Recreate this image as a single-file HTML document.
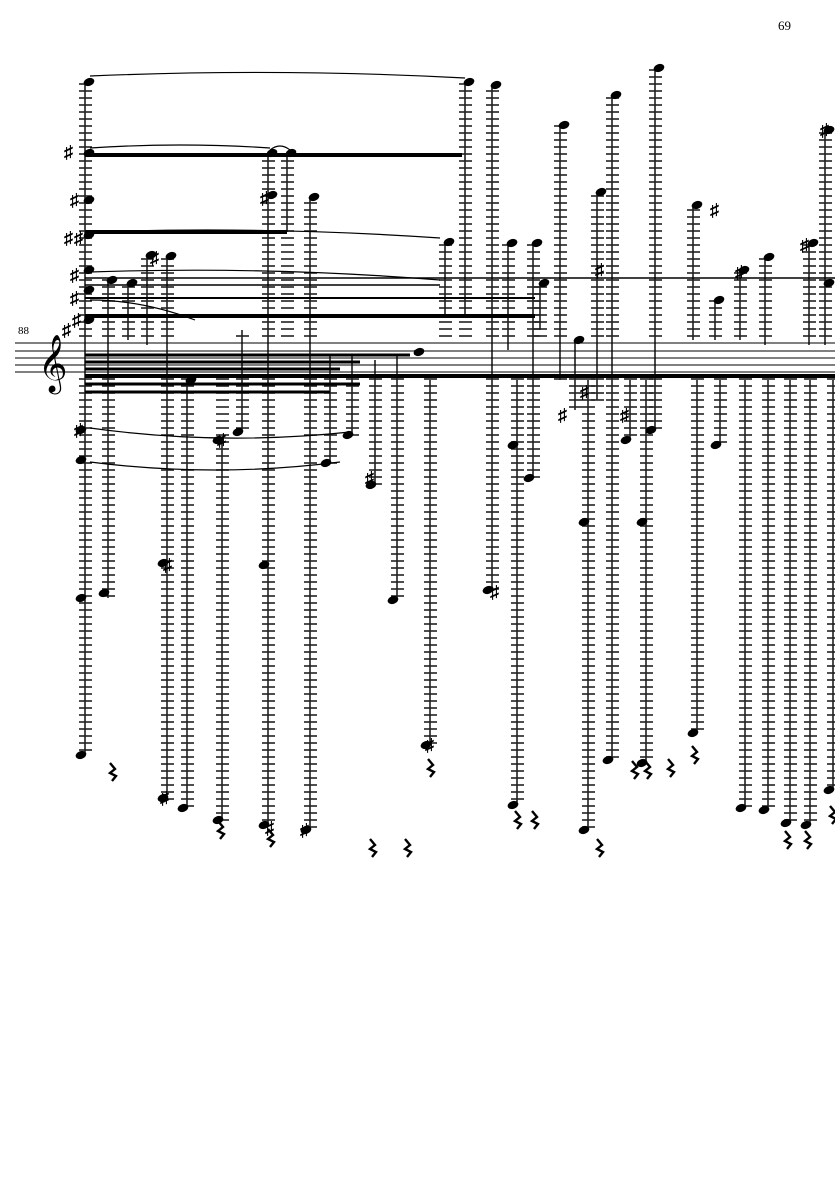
<!DOCTYPE html>
<html><head><meta charset="utf-8"><style>
html,body{margin:0;padding:0;background:#fff;}
svg{display:block;}
text{font-family:"Liberation Serif","DejaVu Serif",serif;}
</style></head><body>
<svg id="s" width="835" height="1181" viewBox="0 0 835 1181" xmlns="http://www.w3.org/2000/svg">
<text x="778" y="30" font-size="13">69</text>
<text x="18" y="334" font-size="11">88</text>
<g stroke="#000" stroke-width="1">
<line x1="15" y1="343" x2="835" y2="343"/><line x1="15" y1="351" x2="835" y2="351"/>
<line x1="15" y1="358" x2="835" y2="358"/><line x1="15" y1="365" x2="835" y2="365"/>
<line x1="15" y1="372" x2="835" y2="372"/>
</g>
<text x="38" y="380" font-size="50" font-family="DejaVu Sans,sans-serif">𝄞</text>
<g id="g"></g>
</svg>
<script>
var cols=[
[85,82,755,[82,153,200,235,270,290,320,430,460,598,755]],
[108,280,598,[280,593]],[128,283,340,[283]],[147,255,345,[255]],
[167,256,800,[256,563,798]],[187,380,808,[380,808]],[222,440,820,[440,820]],
[242,330,432,[432]],[268,153,825,[153,195,565,825]],[287,153,232,[153]],
[310,197,830,[197,830]],[330,355,463,[463]],[352,355,435,[435]],[375,360,485,[485]],
[397,355,600,[600]],[415,350,355,[352]],[430,380,745,[745]],[445,242,318,[242]],
[465,82,318,[82]],[492,85,590,[85,590]],[508,243,350,[243]],[517,380,805,[445,805]],
[533,243,478,[243,478]],[540,283,330,[283]],[560,125,380,[125]],[575,340,410,[340]],
[588,380,830,[522,830]],[597,192,400,[192]],[612,95,760,[95,760]],[630,380,440,[440]],
[646,380,763,[522,763]],[655,68,430,[68,430]],[693,205,340,[205]],[697,380,733,[733]],
[715,300,340,[300]],[720,380,445,[445]],[740,270,340,[270]],[745,380,808,[808]],
[765,257,345,[257]],[768,380,810,[810]],[790,380,823,[823]],[809,243,345,[243]],
[810,380,825,[825]],[825,130,345,[130,283]],[833,380,790,[790]]];
var h='';
cols.forEach(function(c){
 var x=c[0];
 h+='<line x1="'+x+'" y1="'+c[1]+'" x2="'+x+'" y2="'+c[2]+'" stroke="#000" stroke-width="1.4"/>';
 for(var y=336;y>=c[1];y-=7)h+='<line x1="'+(x-6)+'" y1="'+y+'" x2="'+(x+7)+'" y2="'+y+'" stroke="#222" stroke-width="1.6"/>';
 for(var y=379;y<=c[2];y+=7)h+='<line x1="'+(x-6)+'" y1="'+y+'" x2="'+(x+7)+'" y2="'+y+'" stroke="#222" stroke-width="1.6"/>';
 c[3].forEach(function(y){var hx=y>380?x-4:x+4;h+='<ellipse cx="'+hx+'" cy="'+y+'" rx="5.5" ry="3.9" transform="rotate(-20 '+hx+' '+y+')"/>';});
});
[[85,155,462,4],[85,232,287,4],[85,316,535,4],[85,298,535,2],[85,278,835,1.5],[85,285,440,1.5],
 [85,376,835,4],[85,355,410,3],[85,362,360,3],[85,384,360,3],[85,392,330,3],[85,369,340,3]].forEach(function(b){
 h+='<rect x="'+b[0]+'" y="'+(b[1]-b[3]/2)+'" width="'+(b[2]-b[0])+'" height="'+b[3]+'"/>';});
[[90,76,465,78,68],[90,148,270,148,142],[90,232,440,238,226],[90,272,440,280,266],[90,428,350,432,446],[90,462,340,462,478],[90,300,195,320,300],[270,150,290,150,142]].forEach(function(s){
 h+='<path d="M'+s[0]+' '+s[1]+' Q'+((s[0]+s[2])/2)+' '+s[4]+' '+s[2]+' '+s[3]+'" fill="none" stroke="#000" stroke-width="1.2"/>';});
[[64,152],[70,200],[64,238],[74,238],[70,275],[70,298],[72,320],[62,330],[74,430],[150,258],[260,198],[365,478],[163,565],[160,798],[265,828],[300,830],[425,745],[490,592],[558,415],[580,392],[620,415],[217,440],[735,272],[710,210],[800,245],[820,130],[595,270]].forEach(function(a){
 h+='<text x="'+a[0]+'" y="'+(a[1]+6)+'" font-size="18" font-weight="bold" font-family="DejaVu Sans,sans-serif">♯</text>';});
[[110,772],[218,830],[268,838],[370,848],[405,848],[428,768],[515,820],[532,820],[597,848],[632,770],[645,770],[668,768],[692,755],[785,840],[805,840],[830,815]].forEach(function(r){
 h+='<path d="M'+r[0]+' '+(r[1]-9)+' l5 6 l-5 4 l6 3 l-4 5" fill="none" stroke="#000" stroke-width="2.4"/>';});
document.getElementById('g').innerHTML=h;
</script>
</body></html>
